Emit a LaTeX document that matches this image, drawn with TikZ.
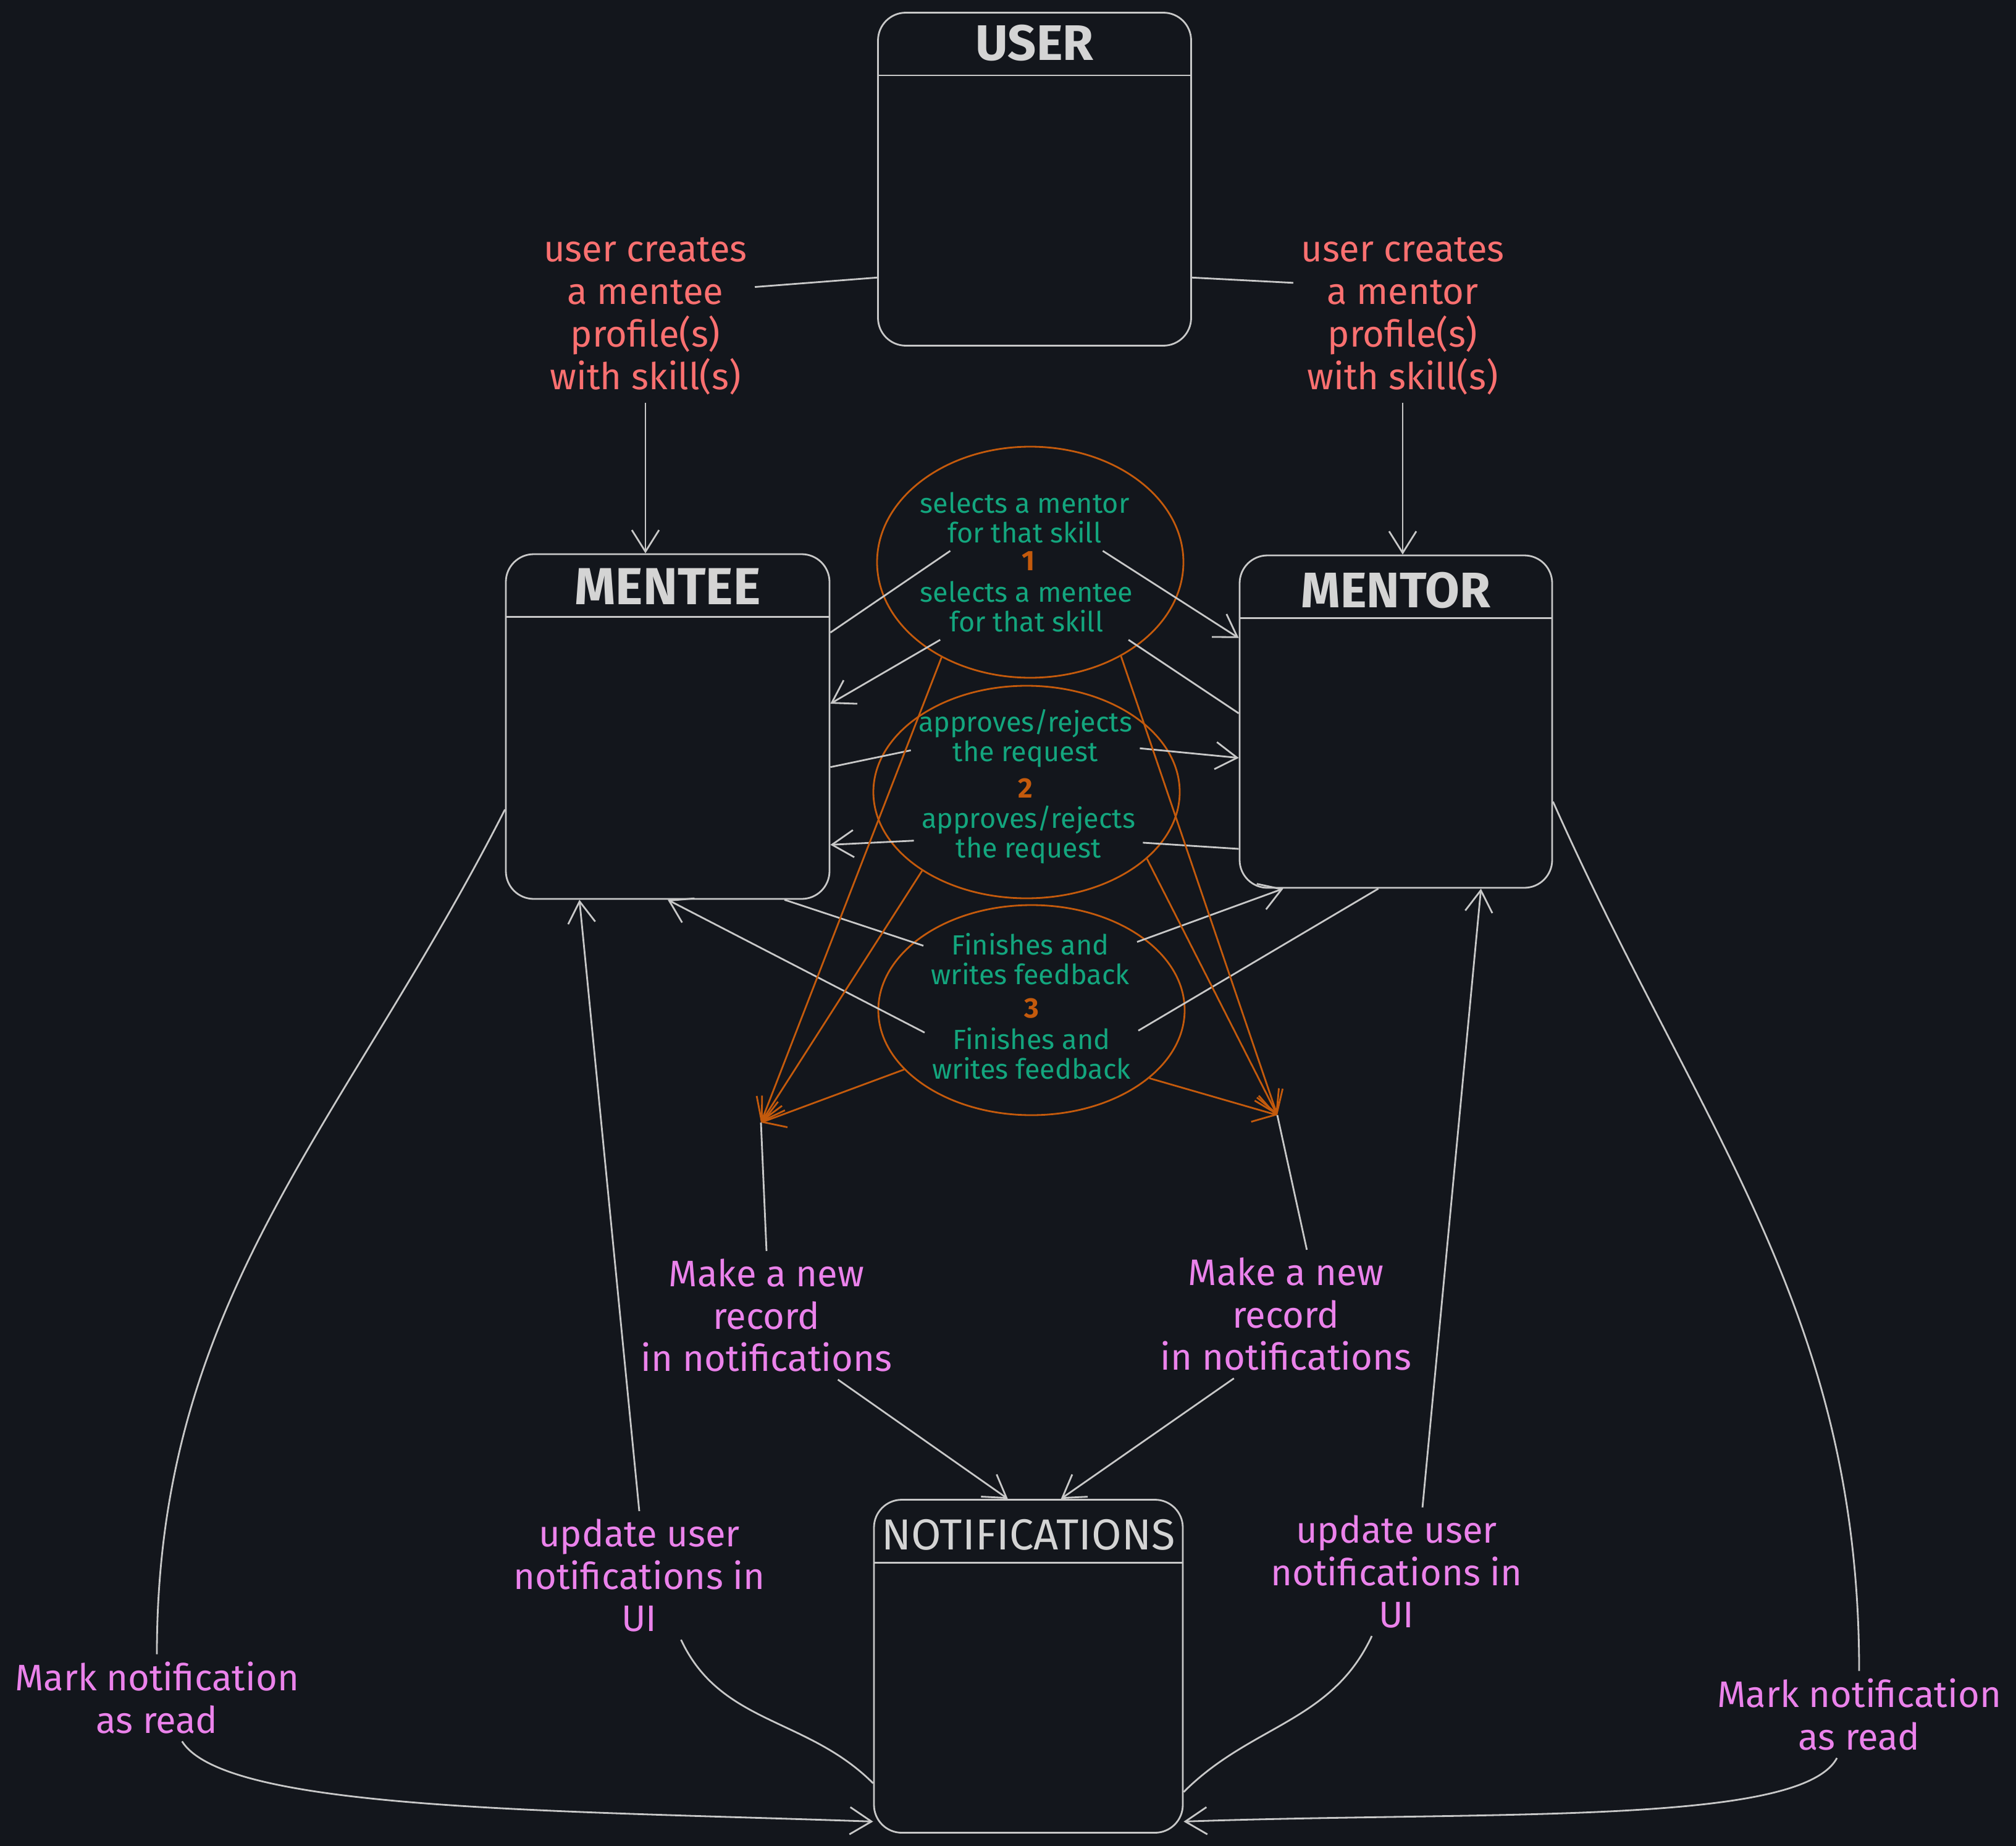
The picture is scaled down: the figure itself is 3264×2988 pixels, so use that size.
\documentclass[tikz,border=0pt]{standalone}
\usepackage{fontspec}
\setmainfont{Fira Sans}
\usetikzlibrary{arrows.meta,shapes.geometric}
\definecolor{bgc}{HTML}{13161C}
\definecolor{linec}{HTML}{C8C8C8}
\definecolor{titlec}{HTML}{D4D4D4}
\definecolor{orng}{HTML}{C45A0C}
\definecolor{grn}{HTML}{13A67E}
\definecolor{salmon}{HTML}{FA7070}
\definecolor{mag}{HTML}{EB82EB}
\tikzset{
  box/.style={draw=linec,line width=0.8pt,rounded corners=4.5mm,inner sep=0},
  title/.style={text=titlec,anchor=base,font=\fontsize{23}{27}\selectfont\bfseries},
  lbl/.style={align=center,font=\fontsize{17}{19.6}\selectfont},
  sm/.style={align=center,text=grn,font=\fontsize{12.8}{13.7}\selectfont},
  num/.style={text=orng,font=\fontsize{13}{15}\selectfont\bfseries},
  ell/.style={ellipse,draw=orng,line width=0.8pt,inner sep=0,minimum width=49.6mm},
  con/.style={draw=linec,line width=0.8pt},
  arr/.style={con,-{Straight Barb[length=3.5mm,width=4.4mm]}},
  oarr/.style={draw=orng,line width=0.8pt,-{Straight Barb[length=3.5mm,width=4.4mm]}}
}
\begin{document}
\begin{tikzpicture}[x=0.1mm,y=-0.1mm]
\useasboundingbox (0,0) rectangle (3264,2988);
\fill[bgc] (0,0) rectangle (3264,2988);

\node[box,minimum width=50.7mm,minimum height=53.9mm] (user) at (1675,290) {};
\node[box,minimum width=52.4mm,minimum height=55.8mm] (mentee) at (1081,1176) {};
\node[box,minimum width=50.6mm,minimum height=53.8mm] (mentor) at (2260,1168) {};
\node[box,minimum width=50.0mm,minimum height=53.9mm] (notif) at (1665,2697) {};
\foreach \bx in {user,mentee,mentor,notif} \draw[con] ([yshift=-10.3mm]\bx.north west) -- ([yshift=-10.3mm]\bx.north east);
\node[title] (userT) at ([yshift=-7.8mm]user.north) {USER};
\node[title,font=\fontsize{24}{28}\selectfont\bfseries] (menteeT) at ([yshift=-8.3mm]mentee.north) {MENTEE};
\node[title] (mentorT) at ([yshift=-8.6mm]mentor.north) {MENTOR};
\node[title,font=\fontsize{20}{24}\selectfont] (notifT) at ([yshift=-8.2mm]notif.north) {NOTIFICATIONS};

\node[lbl,text=salmon] (menteeLbl) at (1045,512) {user creates\\a mentee\\profile(s)\\with skill(s)};
\node[lbl,text=salmon] (mentorLbl) at (2271,512) {user creates\\a mentor\\profile(s)\\with skill(s)};
\node[lbl,text=mag] (makeL) at (1241,2129) {Make a new\\record\\in notifications};
\node[lbl,text=mag] (makeR) at (2082,2127) {Make a new\\record\\in notifications};
\node[lbl,text=mag] (updL) at (1035,2550) {update user\\notifications in\\UI};
\node[lbl,text=mag] (updR) at (2261,2544) {update user\\notifications in\\UI};
\node[lbl,text=mag] (markL) at (254,2748) {Mark notification\\as read};
\node[lbl,text=mag] (markR) at (3010,2775) {Mark notification\\as read};

\node[ell,minimum height=37.4mm] (ell1) at (1668,910) {};
\node[ell,minimum height=34.4mm] (ell2) at (1662,1282) {};
\node[ell,minimum height=34.0mm] (ell3) at (1670,1635) {};
\node[sm] (sel1a) at (1659,838) {selects a mentor\\for that skill};
\node[num] (num1) at (1665,908) {1};
\node[sm] (sel1b) at (1662,982) {selects a mentee\\for that skill};
\node[sm] (app2a) at (1660,1195) {approves/rejects\\the request};
\node[num] (num2) at (1660,1276) {2};
\node[sm] (app2b) at (1665,1351) {approves/rejects\\the request};
\node[sm] (fin3a) at (1668,1552) {Finishes and\\writes feedback};
\node[num] (num3) at (1670,1632) {3};
\node[sm] (fin3b) at (1670,1705) {Finishes and\\writes feedback};

\draw[con] (user.212) -- (menteeLbl.15); \draw[arr] (menteeLbl.south) -- (menteeLbl.south |- mentee.north);
\draw[con] (user.328) -- (mentorLbl.163); \draw[arr] (mentorLbl.south) -- (mentorLbl.south |- mentor.north);

\draw[con] (mentee.30) -- (sel1a.204); \draw[arr] (sel1a.337) -- (mentor.152);
\draw[con] (mentor.177) -- (sel1b.342); \draw[arr] (sel1b.201) -- (mentee.8);
\draw[con] (mentee.346) -- (app2a.186); \draw[arr] (app2a.355) -- (mentor.193);
\draw[con] (mentor.219) -- (app2b.356); \draw[arr] (app2b.183) -- (mentee.324);
\draw[con] (mentee.304) -- (fin3a.173); \draw[arr] (fin3a.9) -- (mentor.236);
\draw[con] (mentor.264) -- (fin3b.12); \draw[arr] (fin3b.169) -- (mentee.south);

\coordinate (mkL) at (1232,1817); \coordinate (mkR) at (2068,1805);
\foreach \e/\p/\q in {ell1/227/314,ell2/217/331,ell3/205/330} {\draw[oarr] (\e.\p) -- (mkL); \draw[oarr] (\e.\q) -- (mkR);}
\draw[con] (mkL) -- (makeL.north); \draw[con] (mkR) -- (makeR.72);
\draw[arr] (makeL.318) -- (notif.97); \draw[arr] (makeR.231) -- (notif.79);

\draw[arr] (updL.north) -- (mentee.243); \draw[con] (notif.217) to[out=135,in=-65] (updL.303);
\draw[arr] (updR.68) -- (mentor.297); \draw[con] (notif.321) to[out=45,in=-115] (updR.249);

\draw[con] (mentee.207) to[out=243,in=90] (markL.north);
\draw[arr] (markL.300) to[out=-58,in=178,out looseness=0.3,in looseness=1.2] (notif.225);
\draw[con] (mentor.333) to[out=-66,in=90] (markR.north);
\draw[arr] (markR.243) to[out=-118,in=2,out looseness=0.3,in looseness=1.2] (notif.315);
\end{tikzpicture}
\end{document}
